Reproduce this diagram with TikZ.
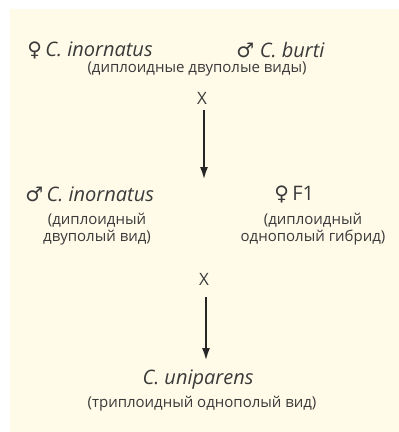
\documentclass[tikz,border=0pt]{standalone}
\usepackage{fontspec}
\setmainfont{Open Sans}
\newfontfamily\gendersym{DejaVu Sans}
\usetikzlibrary{arrows.meta,positioning}
\definecolor{paper}{RGB}{255,251,232}
\definecolor{ink}{RGB}{58,58,58}

\begin{document}
\begin{tikzpicture}[x=1pt, y=-1pt, thick]
                % 1. Styles and background
                \tikzstyle{Species} = [font=\fontsize{20}{24}\selectfont, text=ink, inner sep=0pt]
                \tikzstyle{Note} = [font=\fontsize{15}{16.5}\selectfont, text=ink, inner sep=0pt, align=center]
                \tikzstyle{Cross} = [font=\fontsize{17}{18}\selectfont, text=ink, inner sep=0pt]
                \tikzstyle{Descent} = [draw=black!85, line width=2.4pt, -{Latex[length=13pt,width=8pt]}]
                \useasboundingbox (0,0) rectangle (399,432);
                \fill[paper] (10,9) rectangle (399,432);

                % 2. First cross: parent species
                \node[Species, anchor=west] (inornF) at (27,50) {{\gendersym ♀}\,\textit{C. inornatus}};
                \node[Species, anchor=west] (burtiM) at (236,50) {{\gendersym ♂}\;\textit{C. burti}};
                \node[Note] (noteA) at (197,69) {(диплоидные двуполые виды)};
                \node[Cross] (crossA) at (202,98) {X};

                % Arrow down to the second generation
                \coordinate (arrA) at (204,110);
                \coordinate (arrAend) at (204,180);
                \draw[Descent] (arrA) -- (arrAend);

                % 3. Second cross: male inornatus and F1 hybrid
                \node[Species, anchor=west] (inornM) at (25,194) {{\gendersym ♂}\,\textit{C. inornatus}};
                \node[Species, anchor=west] (hybF) at (274,194) {{\gendersym ♀}\,F1};
                \node[Note] (noteM) at (97,229) {(диплоидный\\двуполый вид)};
                \node[Note] (noteF) at (313,229) {(диплоидный\\однополый гибрид)};
                \node[Cross] (crossB) at (204,279) {X};

                % Arrow down to the triploid species
                \coordinate (arrB) at (206,297);
                \coordinate (arrBend) at (206,361);
                \draw[Descent] (arrB) -- (arrBend);

                % 4. Result
                \node[Species] (unip) at (198,380) {\textit{C. uniparens}};
                \node[Note] (noteU) at (202,404) {(триплоидный однополый вид)};

            \end{tikzpicture}
\end{document}
